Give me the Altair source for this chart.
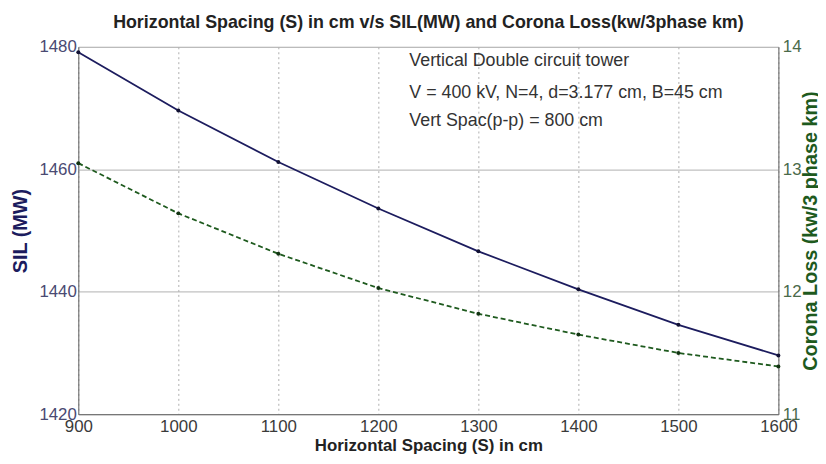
import altair as alt
import pandas as pd

# ---- data ----
spacing = [900, 1000, 1100, 1200, 1300, 1400, 1500, 1600]
sil_mw = [1479.1, 1469.6, 1461.2, 1453.6, 1446.6, 1440.4, 1434.6, 1429.6]
corona_loss = [13.05, 12.64, 12.31, 12.03, 11.82, 11.65, 11.50, 11.39]

note_lines = [
    "Vertical Double circuit tower",
    "V = 400 kV, N=4, d=3.177 cm, B=45 cm",
    "Vert Spac(p-p) = 800 cm",
]
note_x = [1231, 1231, 1231]
note_y = [1477.6, 1472.4, 1467.9]

x_ticks = [900, 1000, 1100, 1200, 1300, 1400, 1500, 1600]
left_ticks = [1420, 1440, 1460, 1480]
right_ticks = [11, 12, 13, 14]

df = pd.DataFrame({"S": spacing, "SIL": sil_mw, "Corona": corona_loss})
notes = pd.DataFrame({"x": note_x, "y": note_y, "text": note_lines})

FONT = "Liberation Sans"
BLUE = "#1c1c5e"
GREEN = "#1e5a1e"

x_enc = alt.X(
    "S:Q",
    scale=alt.Scale(domain=[900, 1600], nice=False, zero=False),
    axis=alt.Axis(
        values=x_ticks, title="Horizontal Spacing (S) in cm", format="d",
        grid=True, gridDash=[2, 3], gridColor="#9a9a9a", gridOpacity=0.8,
        ticks=False, labelFontSize=17, labelColor="#3a3a3a", labelPadding=4,
        labelFlush=False, labelOverlap=False,
        titleFontSize=17, titleFontWeight="bold", titleColor="#222222",
        titlePadding=4, domainColor="#666666", labelFont=FONT, titleFont=FONT,
    ),
)

left_axis = alt.Axis(
    values=left_ticks, title="SIL (MW)", format="d", grid=True, gridColor="#b0b0b0",
    ticks=False, labelFontSize=17, labelColor="#4a4a72", labelPadding=2,
    labelFlush=False, labelOverlap=False,
    titleFontSize=20, titleFontWeight="bold", titleColor=BLUE, titlePadding=8,
    domainColor="#666666", labelFont=FONT, titleFont=FONT,
)
left_scale = alt.Scale(domain=[1420, 1480], nice=False, zero=False)

right_axis = alt.Axis(
    values=right_ticks, title="Corona Loss (kw/3 phase km)", orient="right",
    format="d", grid=False, ticks=False, labelFontSize=17, labelColor="#4a6a4a",
    labelPadding=4, labelFlush=False, labelOverlap=False,
    titleFontSize=20, titleFontWeight="bold", titleColor=GREEN,
    titleAngle=270, titlePadding=20, domainColor="#666666",
    labelFont=FONT, titleFont=FONT,
)
right_scale = alt.Scale(domain=[11, 14], nice=False, zero=False)

base = alt.Chart(df)

sil_line = base.mark_line(color=BLUE, strokeWidth=1.8).encode(
    x=x_enc, y=alt.Y("SIL:Q", scale=left_scale, axis=left_axis)
)
sil_pts = base.mark_point(filled=True, color="#111133", size=16, opacity=1).encode(
    x=x_enc, y=alt.Y("SIL:Q", scale=left_scale, axis=left_axis)
)
note_text = alt.Chart(notes).mark_text(
    align="left", baseline="middle", fontSize=18, font=FONT, color="#333333"
).encode(
    x=alt.X("x:Q", scale=alt.Scale(domain=[900, 1600], nice=False, zero=False)),
    y=alt.Y("y:Q", scale=left_scale, axis=left_axis),
    text="text:N",
)

cor_line = base.mark_line(color=GREEN, strokeWidth=1.8, strokeDash=[5, 3]).encode(
    x=x_enc, y=alt.Y("Corona:Q", scale=right_scale, axis=right_axis)
)
cor_pts = base.mark_point(filled=True, color="#113311", size=16, opacity=1).encode(
    x=x_enc, y=alt.Y("Corona:Q", scale=right_scale, axis=right_axis)
)

left_layer = alt.layer(sil_line, sil_pts, note_text)
right_layer = alt.layer(cor_line, cor_pts)

chart = (
    alt.layer(left_layer, right_layer)
    .resolve_scale(y="independent")
    .properties(
        width=707,
        height=371,
        autosize=alt.AutoSizeParams(type="none"),
        padding={"left": 71, "top": 37, "right": 40, "bottom": 40},
        title=alt.TitleParams(
            "Horizontal Spacing (S) in cm v/s SIL(MW) and Corona Loss(kw/3phase km)",
            font=FONT, fontSize=18, fontWeight="bold", color="#222222",
            anchor="middle", offset=6,
        ),
    )
    .configure_view(stroke="#666666", strokeWidth=1.5)
    .configure(background="white")
)

chart.save("out.html", embed_options={"renderer": "svg", "actions": False})
